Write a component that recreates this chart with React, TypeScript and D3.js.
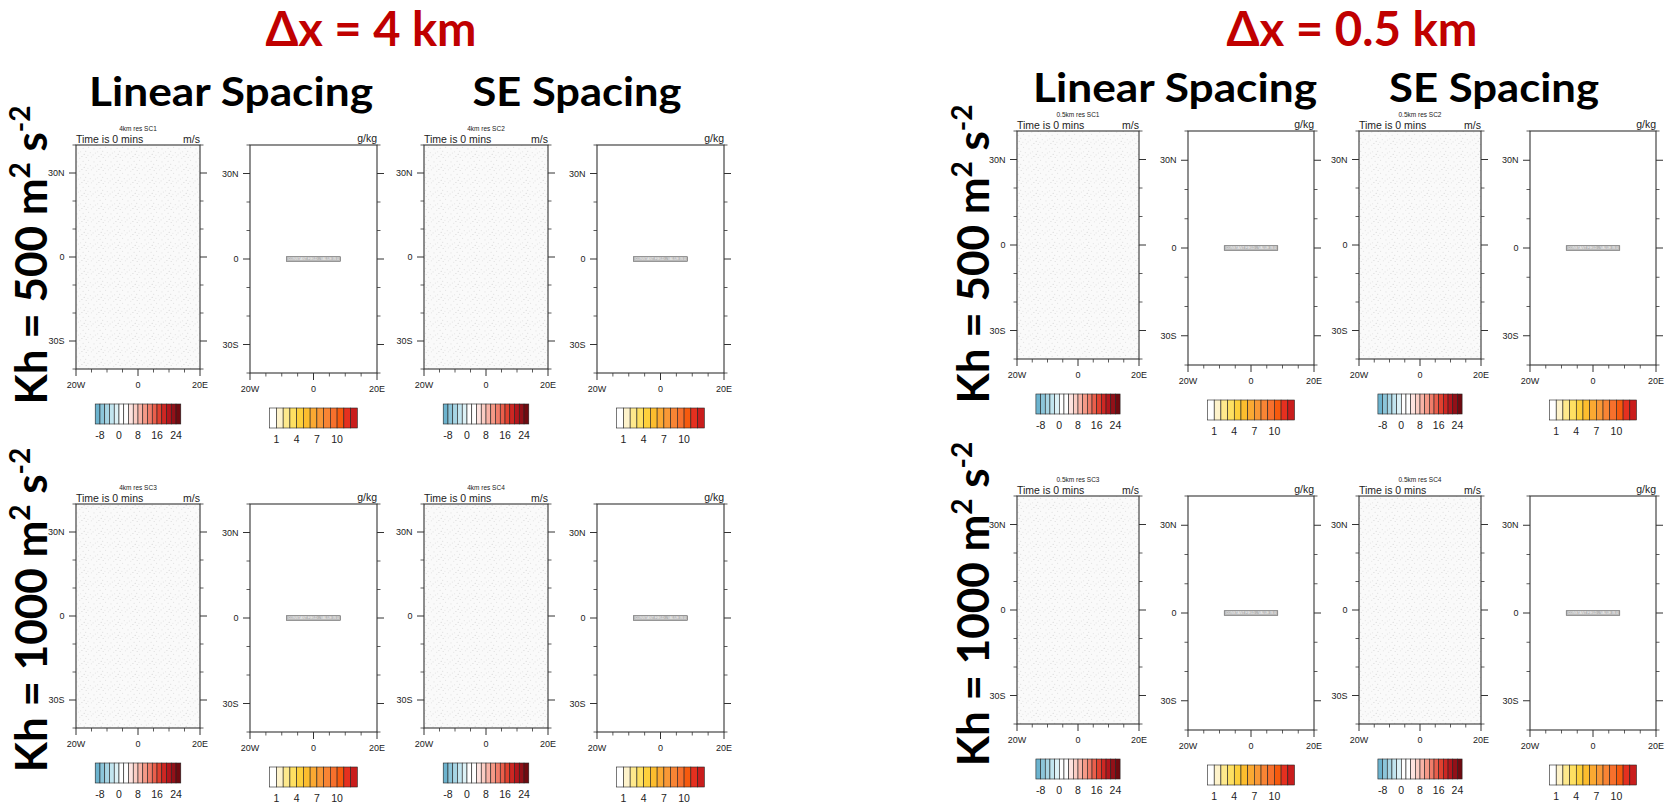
import React from "react";
import * as d3 from "d3";

const W = 1669;
const H = 804;

// ---------- data ----------
const resolutionTitles = ["Δx = 4 km", "Δx = 0.5 km"];
const resolutionTags = ["4km", "0.5km"];
const spacingTitles = ["Linear Spacing", "SE Spacing"];
const khValues = ["500", "1000"];
const caseIds = [
  ["SC1", "SC2"],
  ["SC3", "SC4"],
];
const timeText = "Time is 0 mins";
const windUnits = "m/s";
const qvUnits = "g/kg";
const constantText = "CONSTANT FIELD - VALUE IS 0";

const lonDomain = [-20, 20];
const latDomain = [-40, 40];
const latMajor = [30, 0, -30];
const latMajorLabels = ["30N", "0", "30S"];
const latMinor = [-40, -20, -10, 10, 20, 40];
const lonMajor = [-20, 0, 20];
const lonMajorLabels = ["20W", "0", "20E"];
const lonMinor = [-15, -10, -5, 5, 10, 15];

const windLevels = [-8, -6, -4, -2, 0, 2, 4, 6, 8, 10, 12, 14, 16, 18, 20, 22, 24];
const windLabelValues = [-8, 0, 8, 16, 24];
const windColors = [
  "#6cb3ce", "#8cc5d9", "#a7d5e4", "#c2e5ef", "#ddf2f7", "#ffffff",
  "#ffffff", "#fde3df", "#fbcdc4", "#f8b3a6", "#f59987", "#f07d6a",
  "#ea5f4c", "#e0412f", "#cd2723", "#b3161c", "#931018", "#700a10",
];
const qvLevels = [1, 2, 3, 4, 5, 6, 7, 8, 9, 10, 11, 12];
const qvLabelValues = [1, 4, 7, 10];
const qvColors = [
  "#ffffff", "#fef3cb", "#fee98c", "#fee062", "#fdd03c", "#fcbd2e",
  "#fba932", "#f99836", "#f88434", "#f7702c", "#f65a0e", "#e5301f",
  "#c91d1c",
];

// stipple texture dots inside one tile (x, y)
const stippleDots = [
  [1.2, 1.5], [6.4, 0.8], [11.7, 2.3], [15.1, 5.2], [3.6, 4.4], [9.0, 5.9],
  [0.7, 8.3], [5.3, 9.6], [12.6, 8.8], [16.2, 11.4], [8.1, 11.9], [2.9, 12.2],
  [13.9, 0.4], [10.4, 10.1],
];

// ---------- layout ----------
const groups = [
  {
    panelX: [76, 250, 424, 597],
    rowTop: [145, 504],
    windW: 124, windH: 224, qvW: 127, qvH: 228,
    titleX: 371, titleW: 211,
    subX: [231, 577], subW: [284, 209], subY: 106,
    labelX: 47, labelY: [255, 610],
  },
  {
    panelX: [1017, 1188, 1359, 1530],
    rowTop: [131, 496],
    windW: 122, windH: 228, qvW: 126, qvH: 234,
    titleX: 1352, titleW: 251,
    subX: [1175, 1494], subW: [284, 210], subY: 102,
    labelX: 989, labelY: [254, 604],
  },
];

const AX = "#333";
const FONT = "'Liberation Sans', Arial, Helvetica, sans-serif";
const BIG = "Lato, 'Open Sans', sans-serif";

function ColorBar({ cx, top, w, h, colors, levels, labels }) {
  const n = colors.length;
  const x = d3.scaleLinear().domain([0, n]).range([cx - w / 2, cx + w / 2]);
  return (
    <g>
      {colors.map((c, i) => (
        <rect key={i} x={x(i)} y={top} width={x(i + 1) - x(i)} height={h}
          fill={c} stroke="#222" strokeWidth={0.6} />
      ))}
      {labels.map((v) => {
        const idx = levels.indexOf(v) + 1;
        return (
          <text key={v} x={x(idx)} y={top + h + 15} textAnchor="middle"
            fontFamily={FONT} fontSize={10.5} fill="#222">{v}</text>
        );
      })}
    </g>
  );
}

function Panel({ x0, y0, w, h, kind, caption }) {
  const xs = d3.scaleLinear().domain(lonDomain).range([x0, x0 + w]);
  const ys = d3.scaleLinear().domain(latDomain).range([y0 + h, y0]);
  const isWind = kind === "wind";
  const maj = 7;
  const mnr = 3.5;
  const cbW = w * 0.69;
  const boxW = w * 0.425;
  return (
    <g>
      <rect x={x0} y={y0} width={w} height={h}
        fill={isWind ? "url(#stipple)" : "#ffffff"} />
      {!isWind && (
        <g>
          <rect x={xs(0) - boxW / 2} y={ys(0) - 2.3} width={boxW} height={4.6}
            fill="#b9b9b9" stroke="#5e5e5e" strokeWidth={0.6} />
          <text x={xs(0)} y={ys(0) + 1.3} textAnchor="middle" fontFamily={FONT}
            fontSize={3.6} fill="#f4f4f4" textLength={boxW - 3}
            lengthAdjust="spacingAndGlyphs">{constantText}</text>
        </g>
      )}
      {latMajor.map((v) => (
        <g key={"M" + v}>
          <line x1={x0 - maj} x2={x0} y1={ys(v)} y2={ys(v)} stroke={AX} strokeWidth={1} />
          <line x1={x0 + w} x2={x0 + w + maj} y1={ys(v)} y2={ys(v)} stroke={AX} strokeWidth={1} />
        </g>
      ))}
      {latMinor.map((v) => (
        <g key={"m" + v}>
          <line x1={x0 - mnr} x2={x0} y1={ys(v)} y2={ys(v)} stroke={AX} strokeWidth={0.8} />
          <line x1={x0 + w} x2={x0 + w + mnr} y1={ys(v)} y2={ys(v)} stroke={AX} strokeWidth={0.8} />
        </g>
      ))}
      {lonMajor.map((v) => (
        <line key={"LM" + v} x1={xs(v)} x2={xs(v)} y1={y0 + h} y2={y0 + h + maj}
          stroke={AX} strokeWidth={1} />
      ))}
      {lonMinor.map((v) => (
        <line key={"lm" + v} x1={xs(v)} x2={xs(v)} y1={y0 + h} y2={y0 + h + mnr}
          stroke={AX} strokeWidth={0.8} />
      ))}
      <rect x={x0} y={y0} width={w} height={h} fill="none" stroke={AX} strokeWidth={1.1} />
      {latMajor.map((v, i) => (
        <text key={"t" + v} x={x0 - 11.5} y={ys(v) + 3.2} textAnchor="end"
          fontFamily={FONT} fontSize={9} fill="#222">{latMajorLabels[i]}</text>
      ))}
      {lonMajor.map((v, i) => (
        <text key={"u" + v} x={xs(v)} y={y0 + h + 18.5} textAnchor="middle"
          fontFamily={FONT} fontSize={9} fill="#222">{lonMajorLabels[i]}</text>
      ))}
      {isWind ? (
        <g>
          <text x={x0 + w / 2} y={y0 - 14} textAnchor="middle" fontFamily={FONT}
            fontSize={6.5} fill="#222">{caption}</text>
          <text x={x0} y={y0 - 2} fontFamily={FONT} fontSize={10.5} fill="#222">{timeText}</text>
          <text x={x0 + w} y={y0 - 2} textAnchor="end" fontFamily={FONT} fontSize={10.5}
            fill="#222">{windUnits}</text>
          <ColorBar cx={x0 + w / 2} top={y0 + h + 35} w={cbW} h={20}
            colors={windColors} levels={windLevels} labels={windLabelValues} />
        </g>
      ) : (
        <g>
          <text x={x0 + w} y={y0 - 3} textAnchor="end" fontFamily={FONT} fontSize={10.5}
            fill="#222">{qvUnits}</text>
          <ColorBar cx={x0 + w / 2} top={y0 + h + 35} w={cbW} h={20}
            colors={qvColors} levels={qvLevels} labels={qvLabelValues} />
        </g>
      )}
    </g>
  );
}

function RowLabel({ x, y, kh }) {
  return (
    <text transform={`translate(${x},${y}) rotate(-90)`} textAnchor="middle"
      fontFamily={BIG} fontWeight={700} fontSize={44} fill="#000">
      <tspan>{`Kh = ${kh} m`}</tspan>
      <tspan dy={-17} fontSize={28}>2</tspan>
      <tspan dy={17}> s</tspan>
      <tspan dy={-17} fontSize={28}>-2</tspan>
    </text>
  );
}

export default function App() {
  return (
    <svg width={W} height={H} style={{ position: "absolute", left: 0, top: 0, background: "#fff" }}>
      <defs>
        <pattern id="stipple" width={17} height={13} patternUnits="userSpaceOnUse">
          <rect width={17} height={13} fill="#fafafa" />
          {stippleDots.map(([cx, cy], i) => (
            <circle key={i} cx={cx} cy={cy} r={0.55} fill={i % 3 === 0 ? "#d8d8d8" : "#e2e2e2"} />
          ))}
        </pattern>
      </defs>
      <rect width={W} height={H} fill="#fff" />
      {groups.map((g, gi) => (
        <g key={gi}>
          <text x={g.titleX} y={46} textAnchor="middle" fontFamily={BIG} fontWeight={700}
            fontSize={47} fill="#c00000" textLength={g.titleW}
            lengthAdjust="spacingAndGlyphs">{resolutionTitles[gi]}</text>
          {spacingTitles.map((s, si) => (
            <text key={s} x={g.subX[si]} y={g.subY} textAnchor="middle" fontFamily={BIG}
              fontWeight={700} fontSize={41} fill="#000" textLength={g.subW[si]}
              lengthAdjust="spacingAndGlyphs">{s}</text>
          ))}
          {khValues.map((kh, ri) => (
            <g key={kh}>
              <RowLabel x={g.labelX} y={g.labelY[ri]} kh={kh} />
              {spacingTitles.map((s, si) => {
                const wx = g.panelX[si * 2];
                const qx = g.panelX[si * 2 + 1];
                const top = g.rowTop[ri];
                return (
                  <g key={s}>
                    <Panel x0={wx} y0={top} w={g.windW} h={g.windH} kind="wind"
                      caption={`${resolutionTags[gi]} res ${caseIds[ri][si]}`} />
                    <Panel x0={qx} y0={top} w={g.qvW} h={g.qvH} kind="qv" caption="" />
                  </g>
                );
              })}
            </g>
          ))}
        </g>
      ))}
    </svg>
  );
}
